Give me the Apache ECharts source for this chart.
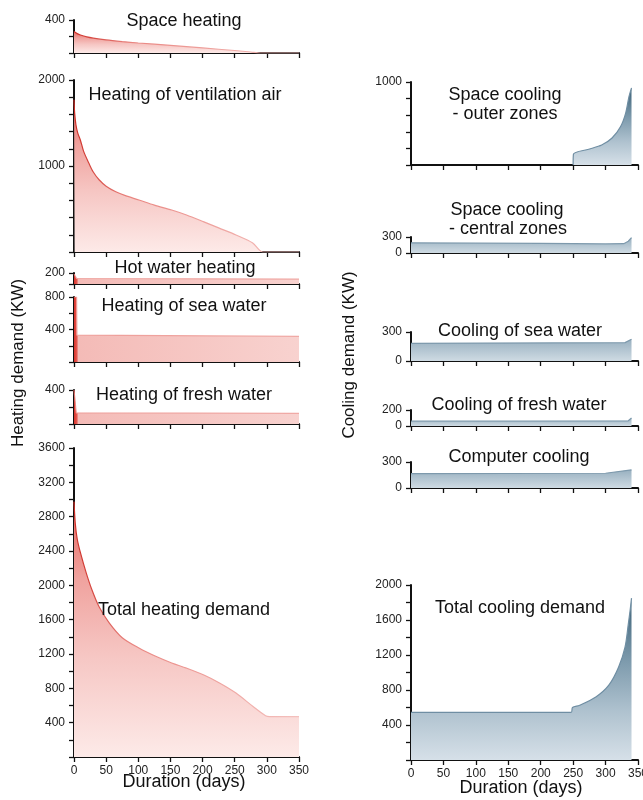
<!DOCTYPE html>
<html><head><meta charset="utf-8">
<script src="https://cdn.jsdelivr.net/npm/echarts@6/dist/echarts.min.js"></script>
<style>html,body{margin:0;padding:0;background:#fff}#c{width:643px;height:800px}</style>
</head><body><div id="c"></div>
<script>
// ---------- data (days of duration, demand in KW) ----------
const durationTicks = [0, 50, 100, 150, 200, 250, 300, 350];

const spaceHeatDays = [0, 5, 10, 20, 30, 50, 75, 100, 150, 200, 250, 275, 290, 350];
const spaceHeatKW   = [260, 235, 218, 195, 180, 158, 138, 121, 92, 61, 30, 12, 0, 0];

const ventDays = [0, 1, 3, 6, 10, 15, 23, 30, 39, 50, 65, 80, 101, 125, 152, 175, 202, 225, 252, 278, 294, 350];
const ventKW   = [1770, 1620, 1480, 1380, 1300, 1170, 1035, 930, 840, 765, 700, 655, 605, 545, 488, 430, 350, 280, 198, 105, 0, 0];

const hotWaterDays = [0, 2, 4, 350];
const hotWaterKW   = [180, 140, 100, 90];

const seaHeatDays = [0, 4, 4.5, 350];
const seaHeatKW   = [800, 800, 330, 315];

const freshHeatDays = [0, 3, 3.5, 350];
const freshHeatKW   = [400, 400, 130, 125];

const totalHeatDays = [0, 2, 5, 10, 19, 28, 39, 55, 75, 101, 128, 152, 175, 202, 227, 252, 279, 298, 304, 350];
const totalHeatKW   = [2975, 2720, 2540, 2380, 2145, 1945, 1750, 1560, 1390, 1270, 1170, 1095, 1035, 955, 860, 745, 585, 480, 470, 470];

const outerCoolDays = [250, 250.5, 274, 294, 310, 323, 331, 336, 340];
const outerCoolKW   = [0, 130, 190, 240, 325, 460, 625, 820, 930];

const centralCoolDays = [0, 100, 200, 300, 328, 335, 340];
const centralCoolKW   = [190, 185, 180, 170, 175, 220, 290];

const seaCoolDays = [0, 330, 340];
const seaCoolKW   = [183, 190, 225];

const freshCoolDays = [0, 335, 340];
const freshCoolKW   = [60, 65, 100];

const computerCoolDays = [0, 300, 340];
const computerCoolKW   = [165, 170, 210];

const totalCoolDays = [0, 247, 249, 260, 285, 305, 320, 330, 335, 338, 340];
const totalCoolKW   = [545, 545, 600, 625, 720, 855, 1060, 1290, 1550, 1720, 1850];

// tick labels shown on each y axis
const spaceHeatLabels = [400];
const ventLabels = [1000, 2000];
const hotWaterLabels = [200];
const seaHeatLabels = [400, 800];
const freshHeatLabels = [400];
const totalHeatLabels = [400, 800, 1200, 1600, 2000, 2400, 2800, 3200, 3600];
const outerCoolLabels = [1000];
const centralCoolLabels = [0, 300];
const seaCoolLabels = [0, 300];
const freshCoolLabels = [0, 200];
const computerCoolLabels = [0, 300];
const totalCoolLabels = [400, 800, 1200, 1600, 2000];

// ---------- layout ----------
const FONT = "'Liberation Sans', Arial, Helvetica, sans-serif";
const L = {left: 74, width: 225};
const R = {left: 411, width: 227};

const panels = [
  {g: L, top: 20,  h: 33,  max: 400,  iv: 200, days: spaceHeatDays, kw: spaceHeatKW, labels: spaceHeatLabels, kind: 'heat', smooth: true},
  {g: L, top: 80,  h: 172, max: 2000, iv: 200, days: ventDays, kw: ventKW, labels: ventLabels, kind: 'heat', smooth: true},
  {g: L, top: 273, h: 11,  max: 200,  iv: 200, days: hotWaterDays, kw: hotWaterKW, labels: hotWaterLabels, kind: 'heatflat'},
  {g: L, top: 297, h: 65,  max: 800,  iv: 200, days: seaHeatDays, kw: seaHeatKW, labels: seaHeatLabels, kind: 'heatflat'},
  {g: L, top: 390, h: 34,  max: 400,  iv: 200, days: freshHeatDays, kw: freshHeatKW, labels: freshHeatLabels, kind: 'heatflat'},
  {g: L, top: 448, h: 309, max: 3600, iv: 200, days: totalHeatDays, kw: totalHeatKW, labels: totalHeatLabels, kind: 'heat', smooth: true, bottom: true},
  {g: R, top: 82,  h: 83,  max: 1000, iv: 200, days: outerCoolDays, kw: outerCoolKW, labels: outerCoolLabels, kind: 'cool', smooth: true},
  {g: R, top: 237, h: 16,  max: 300,  iv: 300, days: centralCoolDays, kw: centralCoolKW, labels: centralCoolLabels, kind: 'coolflat'},
  {g: R, top: 332, h: 29,  max: 300,  iv: 300, days: seaCoolDays, kw: seaCoolKW, labels: seaCoolLabels, kind: 'coolflat'},
  {g: R, top: 410, h: 16,  max: 200,  iv: 200, days: freshCoolDays, kw: freshCoolKW, labels: freshCoolLabels, kind: 'coolflat'},
  {g: R, top: 462, h: 26,  max: 300,  iv: 300, days: computerCoolDays, kw: computerCoolKW, labels: computerCoolLabels, kind: 'coolflat'},
  {g: R, top: 585, h: 175, max: 2000, iv: 200, days: totalCoolDays, kw: totalCoolKW, labels: totalCoolLabels, kind: 'cool', smooth: true, bottom: true}
];

function lin(x, y, x2, y2, stops) {
  return {type: 'linear', x: x, y: y, x2: x2, y2: y2,
    colorStops: stops.map(s => ({offset: s[0], color: s[1]}))};
}
const styles = {
  heat: {
    area: lin(0, 0, 0, 1, [[0, '#e4645c'], [0.3, '#f0a29e'], [0.6, '#f6c6c3'], [1, '#fdeae8']]),
    line: lin(0, 0, 1, 0, [[0, '#cc2a22'], [0.25, '#e98580'], [1, '#f4c2bf']])
  },
  heatflat: {
    area: lin(0, 0, 1, 0, [[0, '#d9342b'], [0.012, '#e4564e'], [0.02, '#f4bbb7'], [1, '#f8d2cf']]),
    line: lin(0, 0, 1, 0, [[0, '#cc2a22'], [0.02, '#ee9e99'], [1, '#f0aaa6']])
  },
  cool: {
    area: lin(0, 0, 0, 1, [[0, '#3c6177'], [0.4, '#7f9cae'], [0.7, '#afc2cf'], [1, '#d6e0e8']]),
    line: '#6f8ea3'
  },
  coolflat: {
    area: lin(0, 0, 0, 1, [[0, '#98b0c0'], [1, '#cfdbe3']]),
    line: '#7d99ac'
  }
};

const grid = [], xAxis = [], yAxis = [], series = [];
panels.forEach((p, i) => {
  grid.push({left: p.g.left, width: p.g.width, top: p.top, height: p.h, containLabel: false, outerBoundsMode: 'none'});
  xAxis.push({
    gridIndex: i, type: 'value', min: 0, max: 350, interval: 50,
    axisLine: {show: true, onZero: false, lineStyle: {color: '#111', width: 2}},
    axisTick: {show: true, length: 5, lineStyle: {color: '#111', width: 1.3}},
    axisLabel: {show: !!p.bottom, fontSize: 12, color: '#222', fontFamily: FONT, margin: 8,
      formatter: v => durationTicks.includes(v) ? String(v) : ''},
    splitLine: {show: false}
  });
  yAxis.push({
    gridIndex: i, type: 'value', min: 0, max: p.max, interval: p.iv,
    axisLine: {show: true, onZero: false, lineStyle: {color: '#111', width: 2}},
    axisTick: {show: true, length: 5, lineStyle: {color: '#111', width: 1.3}},
    axisLabel: {show: true, fontSize: 12, color: '#222', fontFamily: FONT, margin: 9,
      showMinLabel: true, showMaxLabel: true,
      formatter: v => p.labels.includes(v) ? String(v) : ''},
    splitLine: {show: false}
  });
  const st = styles[p.kind];
  series.push({
    type: 'line', xAxisIndex: i, yAxisIndex: i,
    data: p.days.map((d, k) => [d, p.kw[k]]),
    showSymbol: false, symbol: 'none',
    smooth: p.smooth ? 0.3 : false,
    lineStyle: {color: st.line, width: 1.2},
    areaStyle: {color: st.area, opacity: 1},
    silent: true, animation: false, z: 1
  });
});

function txt(t, x, y, size, rot) {
  return {type: 'text', x: x, y: y, rotation: rot || 0, silent: true, z: 100,
    style: {text: t, fontSize: size, fontFamily: FONT, fill: '#111', align: 'center', verticalAlign: 'middle'}};
}
const graphic = [
  txt('Space heating', 184, 21, 18),
  txt('Heating of ventilation air', 185, 95, 18),
  txt('Hot water heating', 185, 268, 18),
  txt('Heating of sea water', 184, 306, 18),
  txt('Heating of fresh water', 184, 395, 18),
  txt('Total heating demand', 184, 610, 18),
  txt('Duration (days)', 184, 782, 18),
  txt('Heating demand (KW)', 18, 363, 17, Math.PI / 2),
  txt('Space cooling', 505, 95, 18),
  txt('- outer zones', 505, 114, 18),
  txt('Space cooling', 507, 210, 18),
  txt('- central zones', 508, 229, 18),
  txt('Cooling of sea water', 520, 331, 18),
  txt('Cooling of fresh water', 519, 405, 18),
  txt('Computer cooling', 519, 457, 18),
  txt('Total cooling demand', 520, 608, 18),
  txt('Duration (days)', 521, 788, 18),
  txt('Cooling demand (KW)', 349, 355, 17, Math.PI / 2)
];

const chart = echarts.init(document.getElementById('c'), null, {renderer: 'canvas', width: 643, height: 800});
chart.setOption({
  animation: false,
  backgroundColor: '#fff',
  grid: grid, xAxis: xAxis, yAxis: yAxis, series: series, graphic: graphic
});
</script>
</body></html>
